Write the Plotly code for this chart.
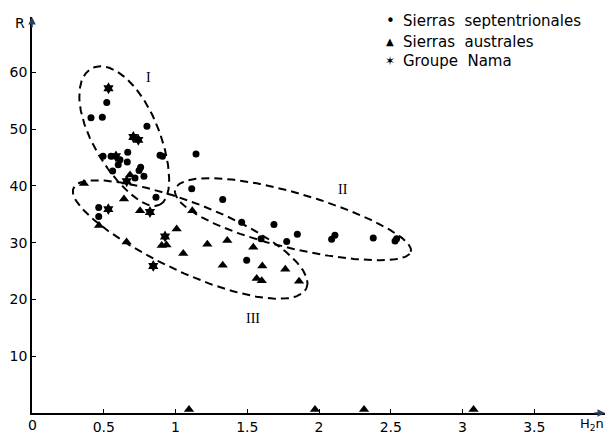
import numpy as np
import plotly.graph_objects as go

# ---------------- data (H2n, R) ----------------
sept_h = [0.521, 0.411, 0.490, 0.801, 0.495, 0.551, 0.613, 0.601, 0.667, 0.664,
          0.757, 0.746, 0.780, 0.562, 0.718, 0.892, 0.909, 1.143, 1.113, 0.864,
          0.465, 0.465, 1.329, 1.461, 1.686, 1.849, 1.596, 1.775, 1.496, 2.088,
          2.111, 2.378, 2.530, 2.541]
sept_r = [54.7, 52.0, 52.1, 50.5, 45.2, 45.2, 44.6, 43.7, 45.9, 44.2,
          43.3, 42.7, 41.7, 42.6, 41.4, 45.4, 45.2, 45.6, 39.5, 38.0,
          36.2, 34.6, 37.6, 33.6, 33.2, 31.5, 30.7, 30.2, 26.9, 30.6,
          31.3, 30.8, 30.3, 30.7]

aus_h = [0.362, 0.641, 0.683, 0.753, 0.467, 0.659, 0.904, 0.937, 1.008, 1.054,
         1.222, 1.117, 1.361, 1.542, 1.329, 1.605, 1.765, 1.566, 1.601, 1.861,
         1.094, 1.972, 2.314, 3.077]
aus_r = [40.4, 37.7, 41.9, 35.6, 33.0, 30.1, 29.5, 29.6, 32.4, 28.1,
         29.7, 35.6, 30.4, 29.2, 26.0, 25.9, 25.3, 23.7, 23.3, 23.2,
         0.6, 0.6, 0.6, 0.6]

nama_h = [0.533, 0.706, 0.741, 0.585, 0.660, 0.532, 0.822, 0.927, 0.845]
nama_r = [57.2, 48.6, 48.1, 45.2, 40.8, 35.9, 35.4, 31.1, 25.9]

series_names = ["Sierras  septentrionales", "Sierras  australes", "Groupe  Nama"]
legend_glyphs = ["\u2022", "\u25B2", "\u2736"]

x_ticks = [0, 0.5, 1, 1.5, 2, 2.5, 3, 3.5]
x_tick_text = ["0", "0.5", "1", "1.5", "2", "2.5", "3", "3.5"]
y_ticks = [10, 20, 30, 40, 50, 60]

# group envelopes: centre (H, R), semi-axes (px), angle (deg), egg factor
envelopes = {
    "I":   dict(c=(0.655, 48.7), a=77, b=33, ang=-64, k=-0.12),
    "II":  dict(c=(1.819, 33.9), a=122, b=28, ang=-15, k=-0.1),
    "III": dict(c=(1.101, 30.8), a=127, b=35, ang=-23.5, k=0.1),
}
env_labels = {"I": (0.815, 59.0), "II": (2.17, 39.3), "III": (1.54, 16.7)}

# ---------------- layout geometry ----------------
W, H = 608, 438
ML, MR, MT, MB = 32, 3, 17, 20
XMAX = 3.993
YMAX = 69.74
PXH = (W - ML - MR) / XMAX
PXR = (H - MT - MB) / YMAX

fig = go.Figure()

def ellipse(c, a, b, ang, k):
    t = np.linspace(0, 2 * np.pi, 240)
    u, v = a * np.cos(t), b * np.sin(t) * (1 + k * np.cos(t))
    th = np.deg2rad(ang)
    dx = u * np.cos(th) - v * np.sin(th)
    dy = u * np.sin(th) + v * np.cos(th)
    return c[0] + dx / PXH, c[1] + dy / PXR

for name, e in envelopes.items():
    ex, ey = ellipse(e["c"], e["a"], e["b"], e["ang"], e["k"])
    fig.add_trace(go.Scatter(x=ex, y=ey, mode="lines",
                             line=dict(color="black", width=2, dash="8px,5px"),
                             hoverinfo="skip", showlegend=False))

fig.add_trace(go.Scatter(x=sept_h, y=sept_r, mode="markers", name=series_names[0],
                         marker=dict(symbol="circle", size=7, color="black"),
                         cliponaxis=False, showlegend=False))
fig.add_trace(go.Scatter(x=aus_h, y=aus_r, mode="markers", name=series_names[1],
                         marker=dict(symbol="triangle-up", size=9, color="black"),
                         cliponaxis=False, showlegend=False))
fig.add_trace(go.Scatter(x=nama_h, y=nama_r, mode="markers", name=series_names[2],
                         marker=dict(symbol="hexagram", size=9, color="black",
                                     line=dict(width=0)),
                         cliponaxis=False, showlegend=False))

FONT = "DejaVu Sans"
PH = H - MT - MB
PW = W - ML - MR
def px(xp):
    return (xp - ML) / PW
def py(yp):
    return (H - MB - yp) / PH

ann = []
for name, (lx, ly) in env_labels.items():
    ann.append(dict(x=lx, y=ly, text=name, showarrow=False,
                    font=dict(family="Liberation Serif", size=14, color="black")))

# legend rows
leg_rows = [21, 42, 62]
for i, name in enumerate(series_names):
    ann.append(dict(x=px(390), y=py(leg_rows[i]), xref="paper", yref="paper",
                    text=legend_glyphs[i], showarrow=False, xanchor="center", yanchor="middle",
                    font=dict(family=FONT, size=[15, 10, 12][i], color="black")))
    ann.append(dict(x=px(401), y=py(leg_rows[i]), xref="paper", yref="paper", text=name,
                    showarrow=False, xanchor="left", yanchor="middle",
                    font=dict(family=FONT, size=15, color="black")))

# axis arrows & titles
ann.append(dict(x=0, y=YMAX, ax=0, ay=12, xref="x", yref="y",
                showarrow=True, arrowhead=2, arrowsize=1, arrowwidth=1.5, text=""))
ann.append(dict(x=XMAX, y=0, ax=-12, ay=0, xref="x", yref="y",
                showarrow=True, arrowhead=2, arrowsize=1, arrowwidth=1.5, text=""))
ann.append(dict(x=px(20), y=py(23), xref="paper", yref="paper", text="R", showarrow=False,
                xanchor="center", yanchor="middle",
                font=dict(family=FONT, size=14, color="black")))
ann.append(dict(x=px(606), y=py(430), xref="paper", yref="paper", text="H<sub>2</sub>n",
                showarrow=False, xanchor="right", yanchor="middle",
                font=dict(family=FONT, size=13, color="black")))
ann.append(dict(x=0, y=py(430), xref="paper", yref="paper", text=x_tick_text[0],
                showarrow=False, xanchor="center", yanchor="middle",
                font=dict(family=FONT, size=14, color="black")))

fig.update_layout(
    width=W, height=H, margin=dict(l=ML, r=MR, t=MT, b=MB),
    paper_bgcolor="white", plot_bgcolor="white",
    annotations=ann, showlegend=False,
    xaxis=dict(range=[0, XMAX], showgrid=False, zeroline=False, showline=True,
               linecolor="black", linewidth=1.5, ticks="inside", ticklen=4,
               tickcolor="black", tickvals=x_ticks[1:], ticktext=x_tick_text[1:],
               tickfont=dict(family=FONT, size=14, color="black")),
    yaxis=dict(range=[0, YMAX], showgrid=False, zeroline=False, showline=True,
               linecolor="black", linewidth=1.5, ticks="inside", ticklen=4,
               tickcolor="black", tickvals=y_ticks,
               tickfont=dict(family=FONT, size=14, color="black")),
)

fig.write_html("out.html")
